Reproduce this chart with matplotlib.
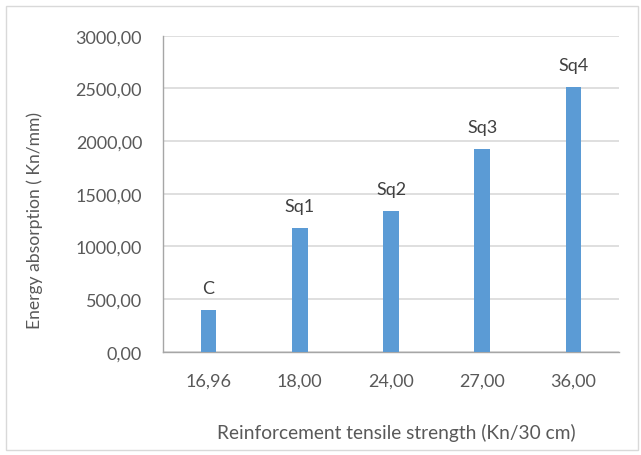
import matplotlib.pyplot as plt
from matplotlib.patches import Rectangle
from matplotlib.ticker import FuncFormatter

# reinforcement tensile strength (Kn/30 cm) and energy absorption (Kn/mm)
strength_labels = ["16,96", "18,00", "24,00", "27,00", "36,00"]
specimens = ["C", "Sq1", "Sq2", "Sq3", "Sq4"]
energy = [396, 1177, 1339, 1921, 2510]

TEXT = "#595959"
BAR = "#5B9BD5"
GRID = "#D9D9D9"
W, H = 641, 456

plt.rcParams["font.family"] = ["Lato", "DejaVu Sans"]

fig = plt.figure(figsize=(W / 100, H / 100), dpi=100)
ax = fig.add_axes([163 / W, 1 - 352.7 / H, 456 / W, 316 / H])

x = range(len(energy))
bars = ax.bar(x, energy, width=0.17, color=BAR, zorder=3)
for rect, name in zip(bars, specimens):
    ax.annotate(name, (rect.get_x() + rect.get_width() / 2, rect.get_height()),
                xytext=(0, 10), textcoords="offset points",
                ha="center", va="bottom", fontsize=13, color="#404040")

ax.set_xlim(-0.5, len(energy) - 0.5)
ax.set_ylim(0, 3000)
ax.set_yticks(range(0, 3001, 500))
ax.yaxis.set_major_formatter(FuncFormatter(lambda v, _: f"{v:.2f}".replace(".", ",")))
ax.set_xticks(list(x))
ax.set_xticklabels(strength_labels)

ax.grid(axis="y", color=GRID, linewidth=1.2, zorder=0)
ax.tick_params(length=0, labelsize=13, colors=TEXT)
ax.tick_params(axis="y", pad=15)
ax.tick_params(axis="x", pad=15)
for side in ("top", "right"):
    ax.spines[side].set_visible(False)
for side in ("left", "bottom"):
    ax.spines[side].set_color("#A6A6A6")
    ax.spines[side].set_linewidth(1.0)

# axis titles
fig.text(35 / W, 1 - 220.5 / H, "Energy absorption ( Kn/mm)", rotation=90,
         ha="center", va="center", fontsize=12.6, color=TEXT)
fig.text(396.5 / W, 1 - 433 / H, "Reinforcement tensile strength (Kn/30 cm)",
         ha="center", va="center", fontsize=13.8, color=TEXT)

# chart area border
fig.patches.append(Rectangle((6 / W, 5 / H), 632 / W, 444 / H,
                             transform=fig.transFigure, fill=False,
                             edgecolor="#D9D9D9", linewidth=1.0))

fig.savefig("out.png", dpi=100)
